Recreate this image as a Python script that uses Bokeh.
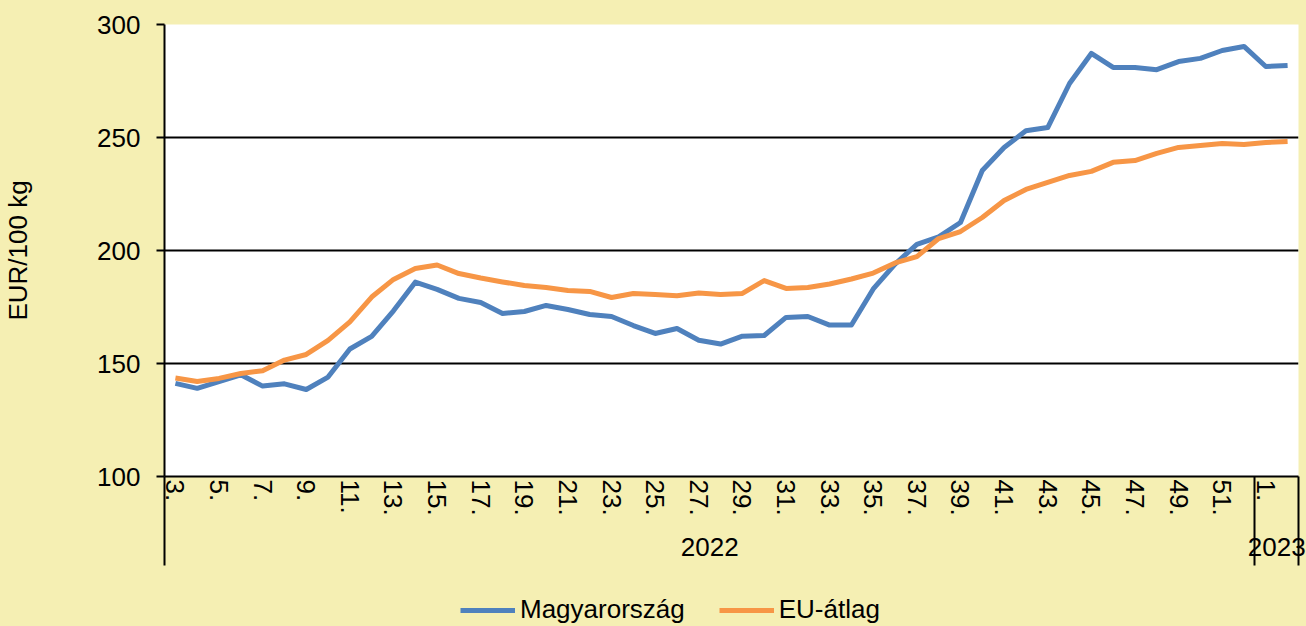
from bokeh.plotting import figure
from bokeh.layouts import column
from bokeh.models import Range1d, FixedTicker, LinearAxis, Legend, LegendItem, ColumnDataSource
from bokeh.embed import file_html
from bokeh.resources import INLINE

# ---- data ----
years = ["2022", "2023"]
weeks_2022 = list(range(3, 53))
weeks_2023 = [1, 2]
week_labels = [f"{w}." for w in weeks_2022 + weeks_2023]

hungary = [141.2, 139.0, 142.0, 145.0, 140.0, 141.0, 138.5, 144.0, 156.4, 162.0,
           173.3, 186.0, 182.8, 178.8, 177.0, 172.1, 173.0, 175.7, 173.9, 171.7,
           170.8, 166.8, 163.3, 165.5, 160.3, 158.6, 162.1, 162.4, 170.4, 170.8,
           167.0, 167.0, 183.0, 194.0, 202.7, 206.0, 212.4, 235.4, 245.6, 253.0,
           254.4, 273.9, 287.2, 281.0, 281.0, 280.0, 283.6, 285.0, 288.5, 290.3,
           281.4, 281.9]
eu_avg = [143.6, 142.0, 143.4, 145.6, 146.8, 151.5, 154.0, 160.2, 168.4, 179.4,
          187.2, 192.0, 193.6, 189.8, 187.8, 186.1, 184.5, 183.6, 182.3, 181.9,
          179.2, 181.0, 180.5, 180.0, 181.2, 180.5, 181.0, 186.7, 183.2, 183.6,
          185.2, 187.4, 190.0, 194.5, 197.3, 205.3, 208.4, 214.6, 222.1, 227.0,
          230.1, 233.2, 235.0, 239.0, 239.8, 243.0, 245.6, 246.5, 247.3, 246.9,
          247.8, 248.2]
series_names = ["Magyarország", "EU-átlag"]
y_ticks = [100, 150, 200, 250, 300]

# ---- styling ----
BG = "#F5EFB3"
BLUE = "#4F81BD"
ORANGE = "#F79646"
FONT = "Liberation Sans"
FS = "26px"
W = 1306
H_MAIN = 576
H_LEG = 50

n = len(week_labels)
x = list(range(n))
src = ColumnDataSource(dict(x=x, hu=hungary, eu=eu_avg))

p = figure(width=W, height=H_MAIN, output_backend="svg", toolbar_location=None,
           x_range=Range1d(-0.5, n - 0.5), y_range=Range1d(y_ticks[0], y_ticks[-1]),
           min_border_left=162, min_border_right=8, min_border_top=24,
           min_border_bottom=100,
           background_fill_color="white", border_fill_color=BG,
           outline_line_color=None)

p.line("x", "hu", source=src, line_color=BLUE, line_width=5, line_join="round")
p.line("x", "eu", source=src, line_color=ORANGE, line_width=5, line_join="round")

# grid
p.xgrid.visible = False
p.ygrid.ticker = FixedTicker(ticks=y_ticks)
p.ygrid.grid_line_color = "black"
p.ygrid.grid_line_width = 2

# y axis
ya = p.yaxis[0]
ya.ticker = FixedTicker(ticks=y_ticks)
ya.axis_line_width = 2
ya.axis_line_color = "black"
ya.major_tick_line_width = 2
ya.major_tick_out = 8
ya.major_tick_in = 0
ya.minor_tick_line_color = None
ya.major_label_standoff = 16
ya.major_label_text_font = FONT
ya.major_label_text_font_size = FS
ya.major_label_text_color = "black"
ya.axis_label = "EUR/100 kg"
ya.axis_label_text_font = FONT
ya.axis_label_text_font_size = FS
ya.axis_label_text_font_style = "normal"
ya.axis_label_text_color = "black"
ya.axis_label_standoff = 61

# x axis (weeks); group separators drawn as minor ticks pointing outward
n22 = len(weeks_2022)
separators = [-0.5, n22 - 0.5, n - 0.5]
xa = p.xaxis[0]
week_ticks = list(range(0, n, 2))
xa.ticker = FixedTicker(ticks=week_ticks, minor_ticks=separators)
xa.major_label_overrides = {i: week_labels[i] for i in week_ticks}
xa.major_label_orientation = "vertical"
xa.major_label_standoff = 3
xa.major_label_text_font = FONT
xa.major_label_text_font_size = FS
xa.major_label_text_color = "black"
xa.major_tick_line_color = None
xa.major_tick_out = 0
xa.major_tick_in = 0
xa.minor_tick_out = 0
xa.minor_tick_in = -89
xa.minor_tick_line_width = 2
xa.minor_tick_line_color = "black"
xa.axis_line_width = 2
xa.axis_line_color = "black"

# year axis
centers = [(-0.5 + n22 - 0.5) / 2, (n22 - 0.5 + n - 0.5) / 2]
year_axis = LinearAxis(ticker=FixedTicker(ticks=centers),
                       major_label_overrides={c: y for c, y in zip(centers, years)},
                       axis_line_color=None, major_tick_line_color=None,
                       minor_tick_line_color=None, major_tick_out=0, major_tick_in=0,
                       major_label_standoff=19,
                       major_label_text_font=FONT, major_label_text_font_size=FS,
                       major_label_text_color="black")
p.add_layout(year_axis, "below")

# legend strip (its lines lie outside its own view; only the legend shows)
pl = figure(width=W, height=H_LEG, output_backend="svg", toolbar_location=None,
            x_range=Range1d(-0.5, n - 0.5), y_range=Range1d(0, 1),
            x_axis_type=None, y_axis_type=None,
            min_border_left=0, min_border_right=0, min_border_top=0, min_border_bottom=0,
            background_fill_color=BG, border_fill_color=BG, outline_line_color=None)
pl.xgrid.visible = False
pl.ygrid.visible = False
l_hu = pl.line("x", "hu", source=src, line_color=BLUE, line_width=5)
l_eu = pl.line("x", "eu", source=src, line_color=ORANGE, line_width=5)
legend = Legend(items=[LegendItem(label=series_names[0], renderers=[l_hu]),
                       LegendItem(label=series_names[1], renderers=[l_eu])],
                orientation="horizontal", location=(296, 1),
                glyph_width=55, glyph_height=20, label_standoff=5, spacing=34,
                padding=0, margin=0, border_line_color=None,
                background_fill_alpha=0,
                label_text_font=FONT, label_text_font_size=FS,
                label_text_color="black")
pl.add_layout(legend, "center")

layout = column(p, pl, spacing=0)
html = file_html(layout, INLINE)
html = html.replace("</head>", "<style>html, body { background-color: %s; }</style></head>" % BG, 1)
open("out.html", "w").write(html)
